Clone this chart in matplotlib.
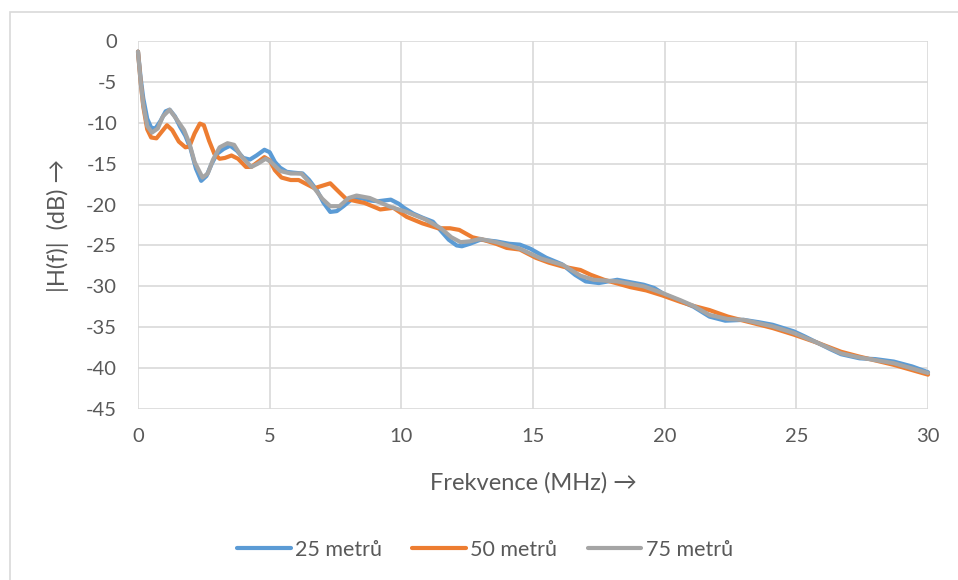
import matplotlib
matplotlib.use('Agg')
import matplotlib.pyplot as plt
from matplotlib.patches import Rectangle

# Data
x_25 = [0, 0.1, 0.2, 0.35, 0.5, 0.66, 0.85, 1.05, 1.2, 1.4, 1.6, 1.8, 2.0, 2.2, 2.4, 2.6, 2.8,
        3.0, 3.25, 3.5, 3.75, 4.0, 4.25, 4.5, 4.8, 5.0, 5.2, 5.4, 5.65, 5.9, 6.25, 6.5, 6.8,
        7.05, 7.3, 7.55, 7.8, 8.1, 8.45, 8.8, 9.1, 9.6, 9.9, 10.1, 10.45, 10.8, 11.2, 11.5,
        11.8, 12.1, 12.3, 12.6, 13.0, 13.6, 14.1, 14.5, 14.9, 15.5, 16.1, 16.6, 17.0, 17.5,
        18.2, 18.7, 19.2, 19.6, 20.0, 20.6, 21.1, 21.7, 22.3, 23.0, 23.6, 24.1, 24.9, 25.3,
        25.8, 26.3, 26.7, 27.4, 28.0, 28.7, 29.4, 30.0]
h_25 = [-1.3, -4.5, -7.0, -9.5, -10.6, -10.7, -9.8, -8.6, -8.4, -9.2, -10.5, -11.6, -13.2,
        -15.6, -17.1, -16.5, -15.0, -13.8, -13.2, -12.8, -13.4, -14.3, -14.5, -14.0, -13.3,
        -13.6, -14.8, -15.5, -16.0, -16.1, -16.2, -17.0, -18.3, -19.8, -20.9, -20.8, -20.2,
        -19.4, -19.2, -19.5, -19.6, -19.4, -19.9, -20.4, -21.1, -21.6, -22.1, -23.2, -24.3,
        -25.0, -25.1, -24.8, -24.3, -24.5, -24.8, -24.9, -25.4, -26.5, -27.3, -28.6, -29.4,
        -29.6, -29.2, -29.5, -29.8, -30.2, -31.0, -31.8, -32.5, -33.7, -34.2, -34.1, -34.4,
        -34.7, -35.5, -36.1, -36.9, -37.7, -38.3, -38.8, -38.9, -39.2, -39.8, -40.5]

x_50 = [0, 0.1, 0.2, 0.35, 0.5, 0.7, 0.9, 1.1, 1.3, 1.55, 1.8, 1.95, 2.15, 2.35, 2.5, 2.7,
        2.9, 3.1, 3.3, 3.55, 3.8, 4.1, 4.3, 4.55, 4.8, 5.0, 5.2, 5.45, 5.8, 6.1, 6.4, 6.7,
        7.0, 7.3, 7.55, 7.9, 8.3, 8.6, 9.2, 9.7, 10.2, 10.8, 11.4, 11.85, 12.2, 12.7, 13.1,
        13.6, 14.0, 14.5, 15.1, 15.6, 16.15, 16.8, 17.2, 17.7, 18.7, 19.3, 19.9, 20.6, 21.1,
        21.7, 22.4, 23.0, 24.1, 24.9, 25.8, 26.7, 27.4, 28.7, 30.0]
h_50 = [-1.3, -5.0, -8.0, -10.8, -11.8, -11.9, -11.1, -10.3, -10.9, -12.3, -13.0, -12.9,
        -11.3, -10.1, -10.3, -12.2, -13.8, -14.4, -14.3, -14.0, -14.4, -15.4, -15.4, -14.8,
        -14.2, -14.6, -15.8, -16.7, -17.0, -17.0, -17.5, -18.0, -17.7, -17.4, -18.2, -19.3,
        -19.6, -19.8, -20.6, -20.4, -21.5, -22.3, -22.9, -22.9, -23.1, -24.0, -24.3, -24.8,
        -25.3, -25.5, -26.5, -27.1, -27.6, -28.0, -28.6, -29.2, -30.1, -30.5, -31.1, -31.9,
        -32.4, -32.9, -33.7, -34.2, -35.1, -35.9, -36.9, -38.0, -38.6, -39.6, -40.8]

x_75 = [0, 0.1, 0.2, 0.35, 0.53, 0.75, 0.95, 1.2, 1.45, 1.75, 1.95, 2.15, 2.45, 2.65, 2.85,
        3.1, 3.4, 3.65, 3.9, 4.3, 4.55, 4.85, 5.05, 5.4, 5.8, 6.2, 6.6, 7.0, 7.3, 7.65, 8.0,
        8.3, 8.8, 9.3, 9.6, 10.2, 10.9, 11.5, 11.9, 12.25, 12.6, 13.0, 13.6, 14.5, 15.3,
        16.15, 16.8, 17.3, 18.2, 19.2, 19.9, 20.6, 21.1, 21.7, 22.4, 23.0, 24.1, 24.9, 25.8,
        26.7, 27.4, 28.7, 30.0]
h_75 = [-1.3, -5.0, -7.8, -10.4, -11.2, -10.7, -9.2, -8.4, -9.5, -10.9, -12.5, -14.8, -16.7,
        -16.2, -14.5, -13.0, -12.5, -12.7, -14.0, -15.4, -15.0, -14.4, -14.8, -15.9, -16.2,
        -16.2, -17.6, -19.3, -20.2, -20.2, -19.2, -18.9, -19.2, -19.9, -20.3, -20.9, -21.8,
        -22.9, -24.0, -24.6, -24.5, -24.2, -24.6, -25.4, -26.6, -27.4, -28.7, -29.2, -29.4,
        -30.0, -30.8, -31.7, -32.4, -33.5, -34.0, -34.1, -34.9, -35.7, -36.9, -38.2, -38.7,
        -39.4, -40.6]

labels = ['25 metrů', '50 metrů', '75 metrů']
colors = ['#5B9BD5', '#ED7D31', '#A5A5A5']

plt.rcParams['font.family'] = ['Lato', 'DejaVu Sans']
plt.rcParams['axes.unicode_minus'] = False
txt = '#595959'
grid = '#D9D9D9'

fig = plt.figure(figsize=(9.58, 5.80), dpi=100)
W, H = 958, 580
ax = fig.add_axes([138 / W, 1 - 409 / H, (928 - 138) / W, (409 - 41) / H])

# outer chart frame
fig.patches.append(Rectangle((10 / W, -0.05), 1.0, 1 - 12 / H + 0.05, transform=fig.transFigure,
                             fill=False, edgecolor=grid, linewidth=1.2))

for xs, ys, c, lab in zip([x_25, x_50, x_75], [h_25, h_50, h_75], colors, labels):
    ax.plot(xs, ys, color=c, lw=3.0, label=lab, solid_joinstyle='round',
            solid_capstyle='round', clip_on=False, zorder=3)

ax.set_xlim(0, 30)
ax.set_ylim(-45, 0)
ax.set_xticks(range(0, 31, 5))
ax.set_yticks(range(-45, 1, 5))
ax.grid(True, color=grid, lw=1.2)
ax.set_axisbelow(True)
for s in ax.spines.values():
    s.set_visible(False)
ax.tick_params(length=0, labelsize=14.5, labelcolor=txt)
ax.tick_params(axis='x', pad=14)
ax.tick_params(axis='y', pad=15)

ax.set_xlabel('Frekvence (MHz) →', fontsize=17, color=txt, labelpad=19)
ax.set_ylabel('|H(f)|  (dB) →', fontsize=17, color=txt, labelpad=12)

fig.legend(loc='center', bbox_to_anchor=(485 / W, 1 - 550 / H), ncol=3, frameon=False,
           fontsize=15.5, labelcolor=txt, handlelength=2.5, handletextpad=0.2,
           columnspacing=1.4)

fig.savefig('out.png', dpi=100)
